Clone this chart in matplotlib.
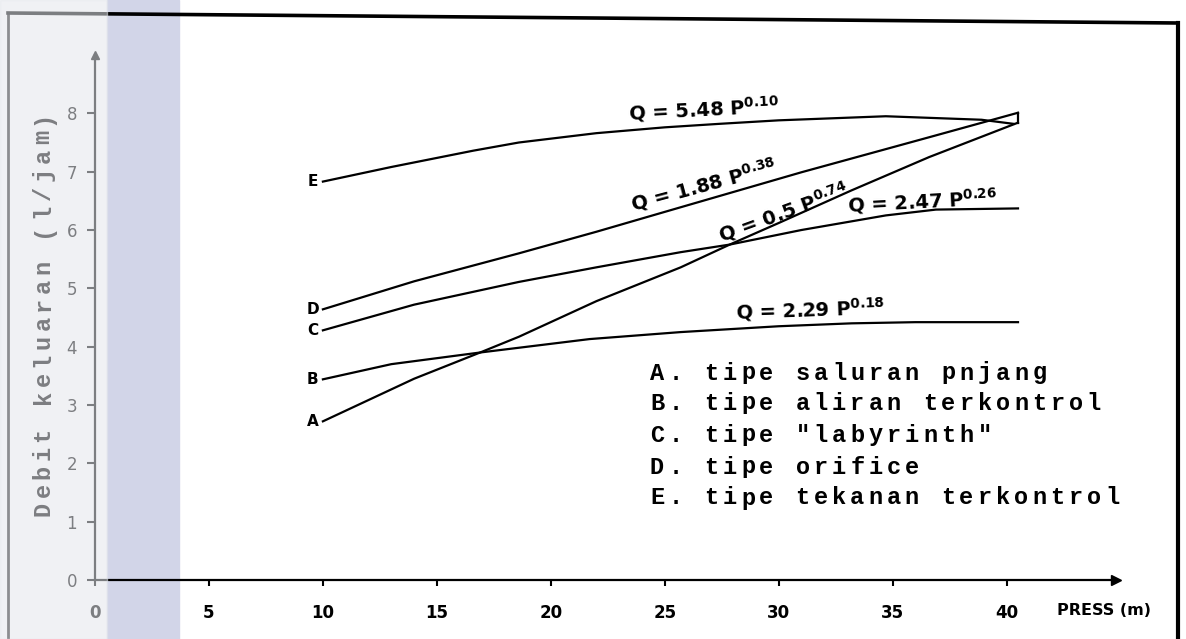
import matplotlib
matplotlib.use("Agg")
import matplotlib.pyplot as plt
from matplotlib.patches import Rectangle
from matplotlib.lines import Line2D

plt.rcParams["mathtext.default"] = "regular"

# curves (pressure m, discharge l/jam)
a_x = [10, 14, 16.9, 18.6, 22, 25.7, 27.85, 30, 33.2, 36.6, 40.5]
a_y = [2.72, 3.45, 3.90, 4.17, 4.78, 5.36, 5.75, 6.12, 6.68, 7.25, 7.84]
b_x = [10, 13, 16.9, 21.7, 25.7, 30, 33.2, 36, 40.5]
b_y = [3.44, 3.70, 3.90, 4.13, 4.25, 4.35, 4.40, 4.42, 4.42]
c_x = [10, 14, 18.6, 22, 25.7, 27.85, 31, 34.7, 36.9, 40.5]
c_y = [4.28, 4.72, 5.11, 5.36, 5.62, 5.75, 6.0, 6.25, 6.35, 6.37]
d_x = [10, 14, 18.6, 22, 25.7, 31, 36.6, 40.5]
d_y = [4.64, 5.12, 5.60, 5.97, 6.39, 6.99, 7.59, 8.01]
e_x = [10, 13, 16.6, 18.6, 22, 25, 27.4, 30, 34.7, 38.9, 40.3]
e_y = [6.83, 7.08, 7.36, 7.50, 7.66, 7.76, 7.82, 7.88, 7.95, 7.89, 7.82]

curve_names = ["A", "B", "C", "D", "E"]
equations = ["Q = 0.5 P$^{0.74}$", "Q = 2.29 P$^{0.18}$", "Q = 2.47 P$^{0.26}$",
             "Q = 1.88 P$^{0.38}$", "Q = 5.48 P$^{0.10}$"]
legend_lines = ["A. tipe saluran pnjang",
                "B. tipe aliran terkontrol",
                'C. tipe "labyrinth"',
                "D. tipe orifice",
                "E. tipe tekanan terkontrol"]
x_ticks = [0, 5, 10, 15, 20, 25, 30, 35, 40]
y_ticks = [0, 1, 2, 3, 4, 5, 6, 7, 8]
y_title = "Debit keluaran (l/jam)"
x_title = "PRESS (m)"

W, H = 1186, 639
fig = plt.figure(figsize=(W / 100, H / 100), dpi=100)
ax = fig.add_axes([95 / W, (H - 580) / H, (1116 - 95) / W, (580 - 55) / H])
ax.set_facecolor("none")
ax.set_xlim(0, 44.8)
ax.set_ylim(0, 9)

for s in ["top", "right"]:
    ax.spines[s].set_visible(False)
for s in ["left", "bottom"]:
    ax.spines[s].set_linewidth(1.6)
ax.plot(1, 0, marker=">", ms=7, color="k", transform=ax.transAxes, clip_on=False)
ax.plot(0, 1, marker="^", ms=6, color="k", transform=ax.transAxes, clip_on=False)

ax.set_xticks(x_ticks)
ax.set_yticks(y_ticks)
ax.tick_params(axis="x", direction="out", length=4, width=1.5, pad=13, labelsize=12)
ax.tick_params(axis="y", direction="out", length=6, width=1.5, pad=7, labelsize=12)
for lab in ax.get_xticklabels():
    lab.set_fontweight("bold")

ax.text(42.2, -0.52, x_title, fontsize=11.5, fontweight="bold", va="center", clip_on=False)

xs = [a_x, b_x, c_x, d_x, e_x]
ys = [a_y, b_y, c_y, d_y, e_y]
for name, x, y in zip(curve_names, xs, ys):
    ax.plot(x, y, color="k", lw=1.6)
    ax.text(9.56, y[0], name, ha="center", va="center", fontsize=11, fontweight="bold")
# little closing stroke between the ends of D and A
ax.plot([d_x[-1], a_x[-1]], [d_y[-1], a_y[-1]], color="k", lw=1.6)

# equation labels: (x, y, rotation) for A..E
eq_pos = [(30.2, 6.30, 20), (31.4, 4.64, 2), (36.3, 6.50, 3), (26.7, 6.78, 15), (26.7, 8.08, 3)]
for txt, (px, py, rot) in zip(equations, eq_pos):
    ax.text(px, py, txt, ha="center", va="center", rotation=rot, fontsize=14,
            fontweight="bold", rotation_mode="anchor")

# typewriter legend, one character at a time to get the wide spacing
pitch = 18.2
rows_y = [373, 403, 435, 467, 498]
for line, ry in zip(legend_lines, rows_y):
    for i, ch in enumerate(line):
        fig.text((657 + i * pitch) / W, 1 - ry / H, ch, ha="center", va="center",
                 family="Liberation Mono", fontweight="bold", fontsize=17)

for i, ch in enumerate(y_title):
    fig.text(43 / W, 1 - (509 - i * 18.6) / H, ch, ha="center", va="center", rotation=90,
             family="Liberation Mono", fontweight="bold", fontsize=17)

# scan frame
fig.add_artist(Line2D([8 / W, 8 / W], [0, 1 - 13 / H], color="#222", lw=2, zorder=5))
fig.add_artist(Line2D([8 / W, 1178 / W], [1 - 13 / H, 1 - 23 / H], color="k", lw=2.6, zorder=5))
fig.add_artist(Line2D([1178 / W, 1178 / W], [1 - 23 / H, 0], color="k", lw=3, zorder=5))

# tinted margin of the scanned page
fig.add_artist(Rectangle((107 / W, 0), 72 / W, 1, transform=fig.transFigure,
                         color="#d2d5e8", zorder=-1))
fig.add_artist(Rectangle((0, 0), 107 / W, 1, transform=fig.transFigure,
                         color="#e4e6ec", alpha=0.55, zorder=10))

fig.savefig("out.png", dpi=100)
